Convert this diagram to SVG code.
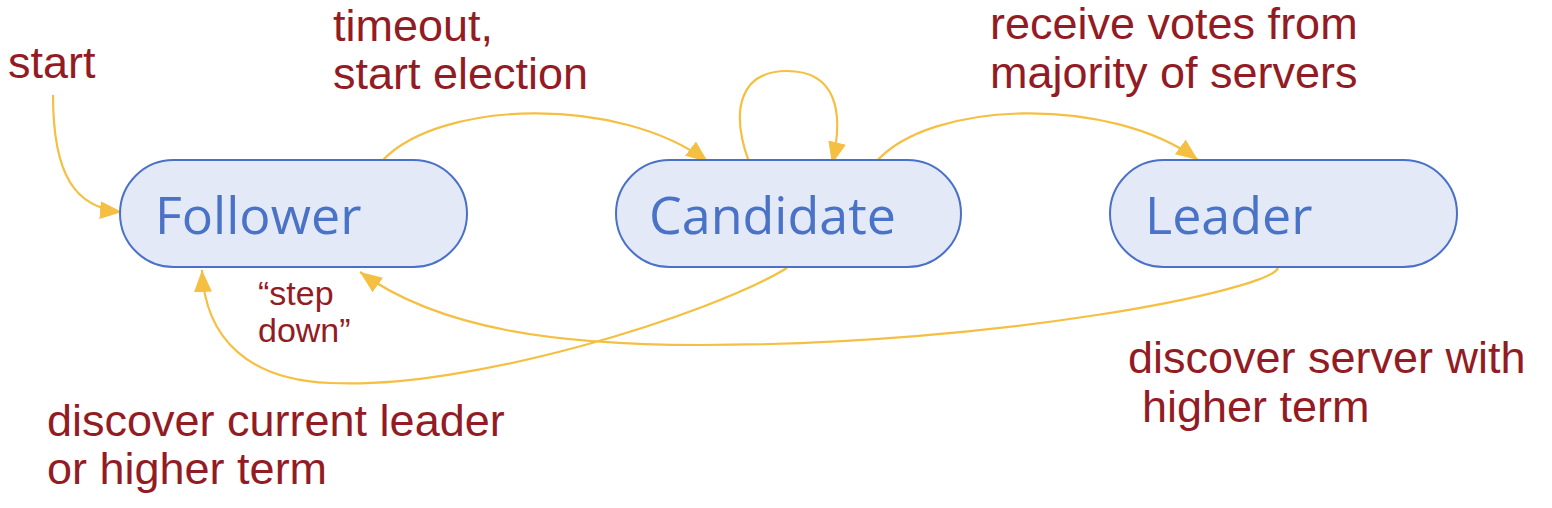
<svg xmlns="http://www.w3.org/2000/svg" width="1552" height="508" viewBox="0 0 1552 508">
<defs>
<marker id="ah" markerUnits="userSpaceOnUse" markerWidth="24" markerHeight="20" refX="22" refY="9" orient="auto">
<path d="M0,0 L22,9 L0,18 Z" fill="#F5BF42"/>
</marker>
<style>
.node rect{fill:#E3E9F6;stroke:#4A70C8;stroke-width:2}
.node text{font-family:"Open Sans","Noto Sans",sans-serif;font-size:52px;fill:#4A72C6}
.lbl{font-family:"Liberation Sans",Arial,sans-serif;font-size:45px;fill:#931C24}
.small{font-size:34px}
#edges path{fill:none;stroke:#F5BF42;stroke-width:2.2;marker-end:url(#ah)}
</style>
</defs>
<rect width="1552" height="508" fill="#ffffff"/>
<g id="edges">
<path d="M53,95 C53,175 75,208 122,212"/>
<path d="M383,160 C440,100 620,95 708,162"/>
<path d="M749,162 C730,110 740,71 787,71 C835,71 845,110 832,164"/>
<path d="M876,162 C930,100 1110,95 1198,160"/>
<path d="M787,268 C710,315 470,390 330,383 C250,380 205,340 202,270"/>
<path d="M1278,268 C1270,290 1000,345 700,345 C560,345 440,330 360,272"/>
</g>
<g id="follower" class="node">
<rect x="120" y="160" width="347" height="107" rx="53.5"/>
<text x="155" y="234">Follower</text>
</g>
<g id="candidate" class="node">
<rect x="616" y="160" width="345" height="107" rx="53.5"/>
<text x="649" y="234">Candidate</text>
</g>
<g id="leader" class="node">
<rect x="1110" y="160" width="347" height="107" rx="53.5"/>
<text x="1145" y="234">Leader</text>
</g>
<g id="labels">
<text class="lbl" x="8" y="78">start</text>
<text class="lbl" x="333" y="41">timeout,</text>
<text class="lbl" x="333" y="89">start election</text>
<text class="lbl" x="990" y="39">receive votes from</text>
<text class="lbl" x="990" y="88">majority of servers</text>
<text class="lbl" x="1128" y="373">discover server with</text>
<text class="lbl" x="1142" y="422">higher term</text>
<text class="lbl" x="47" y="436">discover current leader</text>
<text class="lbl" x="47" y="484">or higher term</text>
<text class="lbl small" x="258" y="305">“step</text>
<text class="lbl small" x="258" y="342">down”</text>
</g>
</svg>
